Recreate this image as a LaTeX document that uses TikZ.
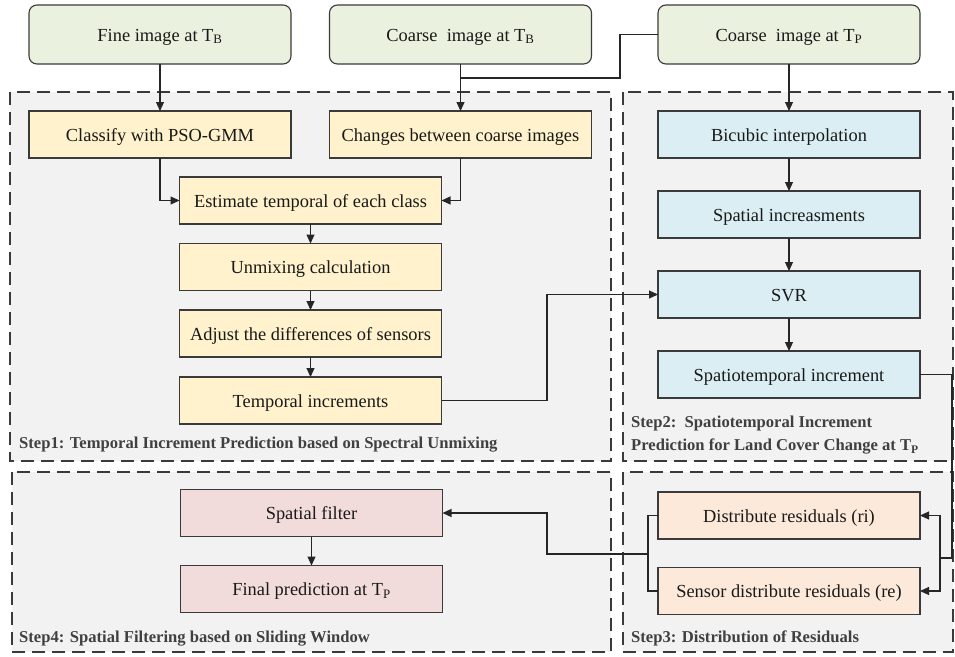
\documentclass[tikz,border=0pt]{standalone}
\usepackage{fontspec}
\setmainfont{Liberation Serif}
\usetikzlibrary{arrows.meta}
\definecolor{greenf}{HTML}{EBF1DF}
\definecolor{yellowf}{HTML}{FFF2CC}
\definecolor{bluef}{HTML}{DBEEF4}
\definecolor{pinkf}{HTML}{F2DCDB}
\definecolor{orangef}{HTML}{FDE9D9}
\definecolor{regionf}{HTML}{F2F2F2}
\definecolor{edgec}{HTML}{3A3A3A}
\definecolor{labelc}{HTML}{404040}
\tikzset{
  box/.style={draw=edgec, line width=1.1pt, minimum width=262pt, minimum height=47pt,
    inner sep=0pt, outer sep=0pt, text height=16.5pt, text depth=3.5pt,
    font=\fontsize{18.4}{22}\selectfont, text=black!90},
  inbox/.style={box, rounded corners=8pt, fill=greenf, minimum height=59pt},
  ybox/.style={box, fill=yellowf},
  bbox/.style={box, fill=bluef},
  pbox/.style={box, fill=pinkf},
  obox/.style={box, fill=orangef},
  region/.style={draw=edgec, fill=regionf, line width=1.3pt, dash pattern=on 13pt off 7pt},
  steplabel/.style={font=\bfseries\fontsize{16.6}{23}\selectfont, text=labelc, inner sep=0pt, align=left},
  conn/.style={draw=black!85, line width=1.1pt},
  arr/.style={conn, -{Triangle[length=9pt,width=8pt]}}
}
\begin{document}
\begin{tikzpicture}[x=1pt,y=-1pt]
\useasboundingbox (0,0) rectangle (955,656);
% regions
\path[region] (10,92) rectangle (611,461);
\path[region] (623,92) rectangle (953,461);
\path[region] (12,472) rectangle (611,652);
\path[region] (623,472) rectangle (953,652);
% inputs
\node[inbox] (fine) at (160,34.5) {Fine image at T\textsubscript{B}};
\node[inbox] (ctb) at (460.5,34.5) {Coarse~~image at T\textsubscript{B}};
\node[inbox] (ctp) at (789,34.5) {Coarse~~image at T\textsubscript{P}};
% step1
\node[ybox] (classify) at (160,134.5) {Classify with PSO-GMM};
\node[ybox] (changes) at (460.5,134.5) {Changes between coarse images};
\node[ybox] (estimate) at (310.5,200.5) {Estimate temporal of each class};
\node[ybox] (unmix) at (310.5,267) {Unmixing calculation};
\node[ybox] (adjust) at (310.5,333.5) {Adjust the differences of sensors};
\node[ybox] (tempinc) at (310.5,400.5) {Temporal increments};
% step2
\node[bbox] (bicubic) at (789,134.5) {Bicubic interpolation};
\node[bbox] (spinc) at (789,214.5) {Spatial increasments};
\node[bbox] (svr) at (789,294.5) {SVR};
\node[bbox] (stinc) at (789,374.5) {Spatiotemporal increment};
% step4
\node[pbox] (sfilter) at (311.5,513) {Spatial filter};
\node[pbox] (final) at (311.5,589) {Final prediction at T\textsubscript{P}};
% step3
\node[obox] (ri) at (789,515.5) {Distribute residuals (ri)};
\node[obox] (re) at (789,591) {Sensor distribute residuals (re)};
% labels
\node[steplabel, anchor=base west] (l1) at (19,448) {Step1: Temporal Increment Prediction based on Spectral Unmixing};
\node[steplabel, anchor=north west] (l2) at (631,416) {Step2:~~Spatiotemporal Increment\\Prediction for Land Cover Change at T\textsubscript{P}};
\node[steplabel, anchor=base west] (l3) at (631,642) {Step3: Distribution of Residuals};
\node[steplabel, anchor=base west] (l4) at (19,642) {Step4: Spatial Filtering based on Sliding Window};
% coordinates
\coordinate (j1) at (620,78);
\coordinate (j2) at (460.5,78);
\coordinate (t1) at (547,400.5);
\coordinate (s1) at (952,374.5);
\coordinate (s2) at (940,558);
\coordinate (b1) at (648,554);
\coordinate (b2) at (547,554);
% connectors
\draw[arr] (fine) -- (classify);
\draw[arr] (ctb) -- (changes);
\draw[conn] (ctp.west) -| (j1) -- (j2);
\draw[arr] (ctp) -- (bicubic);
\draw[arr] (classify.south) |- (estimate.west);
\draw[arr] (changes.south) |- (estimate.east);
\draw[arr] (estimate) -- (unmix);
\draw[arr] (unmix) -- (adjust);
\draw[arr] (adjust) -- (tempinc);
\draw[arr] (tempinc.east) -- (t1) |- (svr.west);
\draw[arr] (bicubic) -- (spinc);
\draw[arr] (spinc) -- (svr);
\draw[arr] (svr) -- (stinc);
\draw[conn] (stinc.east) -- (s1) |- (s2);
\draw[arr] (s2) |- (ri.east);
\draw[arr] (s2) |- (re.east);
\draw[conn] (ri.west) -- ++(-10,0) |- (re.west);
\draw[arr] (b1) -- (b2) |- (sfilter.east);
\draw[arr] (sfilter) -- (final);
\end{tikzpicture}
\end{document}
